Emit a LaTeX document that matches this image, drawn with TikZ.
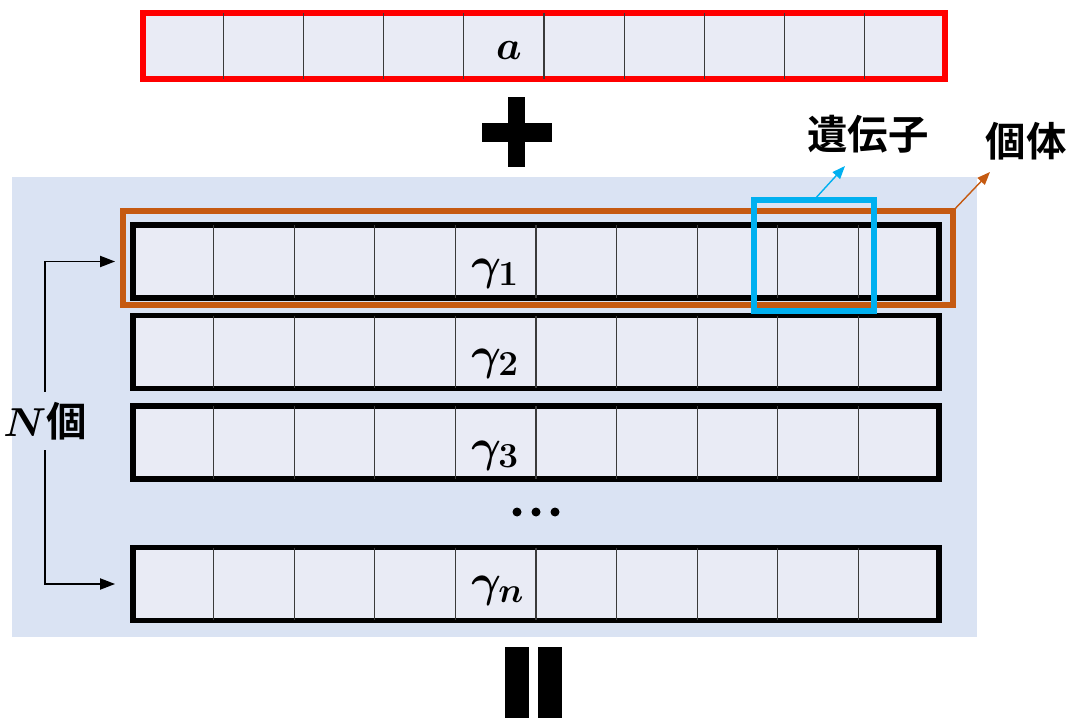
\RequirePackage{fix-cm}
\documentclass[tikz,border=0pt]{standalone}
\usepackage{amsmath}
\usepackage{fontspec}
\usepackage{tikz}
\usetikzlibrary{arrows.meta,calc}
\newfontfamily\cjk{Noto Sans CJK JP}[BoldFont={* Bold}]
\DeclareMathSizes{26}{26}{20}{15}
\definecolor{panelblue}{HTML}{DAE3F3}
\definecolor{cellfill}{HTML}{E9EBF5}
\definecolor{cellline}{HTML}{3A3A3A}
\definecolor{indivorange}{HTML}{C55A11}
\definecolor{geneblue}{HTML}{00B0F0}
\tikzstyle{offset_row} =
  [ rectangle
  , draw=red
  , fill=cellfill
  , line width=3.4pt
  , outer sep=0pt
  , minimum width=16.04cm
  , minimum height=1.32cm
  ]
\tikzstyle{chromosome} =
  [ rectangle
  , draw=black
  , fill=cellfill
  , line width=3.4pt
  , outer sep=0pt
  , minimum width=16.12cm
  , minimum height=1.46cm
  ]
\tikzstyle{individual} =
  [ rectangle
  , draw=indivorange
  , line width=3.6pt
  , outer sep=0pt
  , minimum width=16.6cm
  , minimum height=1.88cm
  ]
\tikzstyle{gene} =
  [ rectangle
  , draw=geneblue
  , line width=3.4pt
  , outer sep=0pt
  , minimum width=2.4cm
  , minimum height=2.22cm
  ]
\tikzstyle{math_label} =
  [ font=\fontsize{23}{27}\selectfont\boldmath
  , anchor=base
  , inner sep=0pt
  ]
\tikzstyle{gamma_label} =
  [ font=\fontsize{26}{30}\selectfont\boldmath
  , anchor=base west
  , inner sep=0pt
  ]
\tikzstyle{jp_label} =
  [ font=\fontsize{23}{27}\selectfont\cjk\bfseries
  , inner sep=0pt
  ]
% nine thin separators inside a row node
\newcommand\cellgrid[1]{%
  \foreach \k in {1,...,9}
    \draw[cellline, line width=0.7pt]
      ($(#1.north west)!\k/10!(#1.north east)$) -- ($(#1.south west)!\k/10!(#1.south east)$);%
}
\begin{document}
\begin{tikzpicture}[x=0.02cm, y=-0.02cm]
    \useasboundingbox (0,0) rectangle (1074,719);

    % vector a
    \node[offset_row] (offset) at (544, 46) {};
    \cellgrid{offset}
    \node[math_label] (offset_label) at (509, 60) {$a$};

    % plus sign
    \fill (482, 123) rectangle (552, 142);
    \fill (508, 97)  rectangle (525, 167);

    % population
    \fill[panelblue] (12, 177) rectangle (977, 637);
    \node[chromosome] (gamma1) at (536, 261.5) {};
    \node[chromosome] (gamma2) at (536, 352)   {};
    \node[chromosome] (gamma3) at (536, 442.5) {};
    \node[chromosome] (gamman) at (536, 584)   {};
    \foreach \row in {gamma1,gamma2,gamma3,gamman} {\cellgrid{\row}}
    \node[gamma_label] (gamma1_label) at (471, 279) {$\gamma_1$};
    \node[gamma_label] (gamma2_label) at (471, 369) {$\gamma_2$};
    \node[gamma_label] (gamma3_label) at (471, 461) {$\gamma_3$};
    \node[gamma_label] (gamman_label) at (471, 596) {$\gamma_n$};
    \foreach \x in {517, 536, 555} \fill (\x, 512) circle (0.09cm);

    % individual and gene
    \node[individual] (indiv) at (538, 258)   {};
    \node[gene]       (gene)  at (814, 255.5) {};
    \node[jp_label] (gene_label)  at (868, 134)  {遺伝子};
    \node[jp_label] (indiv_label) at (1026, 141) {個体};
    \coordinate (gene_tip)  at (845, 166);
    \coordinate (indiv_tip) at (990, 172);
    \draw[geneblue, line width=0.8pt, -{Triangle[length=0.26cm,width=0.2cm]}, shorten <=2pt] (gene.north) -- (gene_tip);
    \draw[indivorange, line width=0.8pt, -{Triangle[length=0.26cm,width=0.2cm]}, shorten <=2pt] (indiv.north east) -- (indiv_tip);

    % population size
    \node[font=\fontsize{23}{27}\selectfont\boldmath\bfseries, inner sep=0.2cm] (count) at (45, 421) {$N$\cjk 個};
    \draw[line width=1.1pt, -{Triangle[length=0.3cm,width=0.22cm]}, shorten >=0.36cm] (count.north) |- (gamma1.west);
    \draw[line width=1.1pt, -{Triangle[length=0.3cm,width=0.22cm]}, shorten >=0.36cm] (count.south) |- (gamman.west);

    % equals sign
    \fill (505, 647) rectangle (529, 718);
    \fill (538, 647) rectangle (562, 718);
\end{tikzpicture}
\end{document}
